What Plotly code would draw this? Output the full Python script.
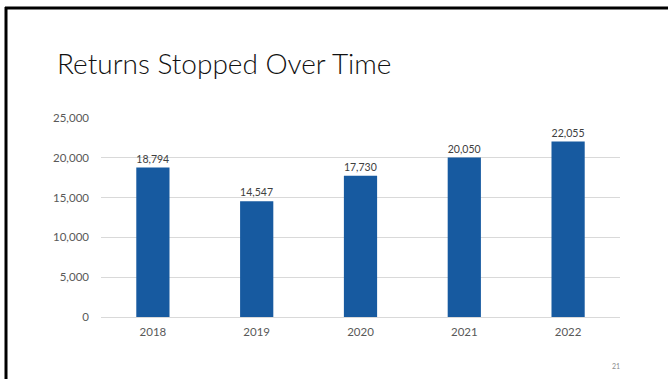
import plotly.graph_objects as go

years = ["2018", "2019", "2020", "2021", "2022"]
returns_stopped = [18794, 14547, 17730, 20050, 22055]
y_ticks = [0, 5000, 10000, 15000, 20000, 25000]
y_tick_labels = ["0", "5,000", "10,000", "15,000", "20,000", "25,000"]

W, H = 668, 379
ML, MR, MT, MB = 101, 48, 118, 62
PW = W - ML - MR
PH = H - MT - MB

def px_x(p):
    return (p - ML) / PW

def px_y(p):
    return 1 - (p - MT) / PH

fig = go.Figure(go.Bar(
    x=years, y=returns_stopped,
    marker=dict(color="#175aa0", line=dict(width=0)),
    width=0.32,
    text=[f"{v:,}" for v in returns_stopped],
    textposition="outside",
    textfont=dict(family="Lato", size=11.5, color="#404040"),
    cliponaxis=False,
))

fig.update_layout(
    width=W, height=H,
    margin=dict(l=ML, r=MR, t=MT, b=MB),
    paper_bgcolor="white", plot_bgcolor="white",
    showlegend=False,
    font=dict(family="Lato", size=11, color="#595959"),
    xaxis=dict(showgrid=False, showline=False, ticks="", tickfont=dict(size=11.5, color="#595959"), ticklabelstandoff=6),
    yaxis=dict(range=[0, 25000], tickvals=y_ticks, ticktext=y_tick_labels,
               showgrid=True, gridcolor="#d9d9d9", gridwidth=1,
               zeroline=True, zerolinecolor="#d9d9d9", zerolinewidth=1,
               showline=False, ticks="", ticklabelstandoff=11,
               tickfont=dict(size=11.5, color="#595959")),
    shapes=[
        dict(type="line", xref="paper", yref="paper", x0=px_x(5), x1=px_x(668), y0=px_y(8), y1=px_y(8),
             line=dict(color="black", width=3)),
        dict(type="line", xref="paper", yref="paper", x0=px_x(6), x1=px_x(6), y0=px_y(7), y1=px_y(379),
             line=dict(color="black", width=3)),
    ],
    annotations=[
        dict(text="Returns Stopped Over Time", xref="paper", yref="paper", x=px_x(55), y=px_y(63),
             xanchor="left", yanchor="middle", showarrow=False,
             font=dict(family="Lato", size=28, color="#111111", weight=300)),
        dict(text="21", xref="paper", yref="paper", x=px_x(616), y=px_y(366),
             xanchor="center", yanchor="middle", showarrow=False,
             font=dict(family="Lato", size=7, color="#8c8c8c")),
    ],
)

fig.write_html("out.html", config={"displayModeBar": False},
               post_script="document.body.style.margin='0';document.body.style.padding='0';")
